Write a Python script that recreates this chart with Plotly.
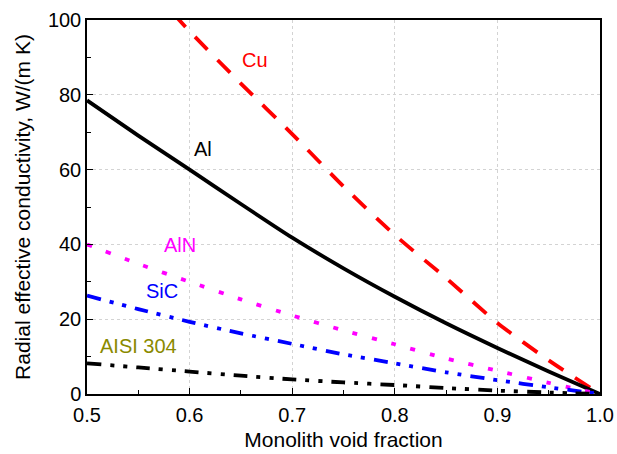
import plotly.graph_objects as go

void_fraction = [0.5, 0.55, 0.6, 0.65, 0.7, 0.75, 0.8, 0.85, 0.9, 0.95, 1.0]
cu = [127, 112, 97, 83, 69.5, 55.5, 42.5, 31, 19, 9, 0]
al = [78.5, 69.1, 60, 50.8, 41.8, 33.6, 26, 18.9, 12.3, 6, 0]
aln = [40, 34.8, 30, 25.3, 21, 17, 13.3, 9.5, 6.2, 3.0, 0]
sic = [26.3, 22.7, 19.3, 16.2, 13.4, 10.6, 8.2, 5.8, 3.7, 1.8, 0]
aisi = [8.2, 7.1, 6.0, 4.9, 3.9, 3.1, 2.4, 1.6, 0.9, 0.4, 0]

series = [
    ("Cu", cu, "#ff0000", "18px,14px"),
    ("Al", al, "#000000", "solid"),
    ("AlN", aln, "#ff00ff", "5px,15px"),
    ("SiC", sic, "#0000ff", "14px,9px,4px,9px,4px,9px"),
    ("AISI 304", aisi, "#000000", "14px,9px,4px,9px,4px,9px"),
]

labels = ["Cu", "Al", "AlN", "SiC", "AISI 304"]
label_x = [0.6637, 0.6131, 0.5906, 0.5731, 0.5502]
label_y = [89.2, 65.6, 39.8, 27.5, 12.8]
label_colors = ["#ff0000", "#000000", "#ff00ff", "#0000ff", "#8a8a00"]

FONT = "Liberation Sans, Arial"

fig = go.Figure()
for name, vals, color, dash in series:
    fig.add_trace(go.Scatter(x=void_fraction, y=vals, mode="lines", name=name,
                             line=dict(color=color, width=3.8, dash=dash, shape="spline", smoothing=0.6),
                             showlegend=False))

for t, x, y, c in zip(labels, label_x, label_y, label_colors):
    fig.add_annotation(x=x, y=y, text=t, showarrow=False,
                       font=dict(size=20, color=c, family=FONT))

axis_common = dict(
    showline=True, linecolor="black", linewidth=1.5, mirror=True,
    ticks="inside", ticklen=6, tickwidth=1, tickcolor="black",
    showgrid=True, gridcolor="#d3d3d3", griddash="dot", gridwidth=1,
    zeroline=False, automargin=False,
    tickfont=dict(size=20, color="black", family=FONT),
)

fig.update_xaxes(range=[0.5, 1.0], tickvals=[0.5, 0.6, 0.7, 0.8, 0.9, 1.0],
                 ticktext=["0.5", "0.6", "0.7", "0.8", "0.9", "1.0"],
                 ticklabelstandoff=2,
                 minor=dict(tickvals=[0.55, 0.65, 0.75, 0.85, 0.95], ticks="inside",
                            ticklen=4, tickcolor="black", showgrid=False),
                 title=dict(text="Monolith void fraction", standoff=8,
                            font=dict(size=21, color="black", family=FONT)),
                 **axis_common)
fig.update_yaxes(range=[0, 100], tickvals=[0, 20, 40, 60, 80, 100],
                 minor=dict(tickvals=[10, 30, 50, 70, 90], ticks="inside",
                            ticklen=4, tickcolor="black", showgrid=False),
                 title=dict(text="Radial effective conductivity, W/(m K)", standoff=12,
                            font=dict(size=21, color="black", family=FONT)),
                 **axis_common)

fig.update_layout(width=617, height=454, plot_bgcolor="white", paper_bgcolor="white",
                  margin=dict(l=87, r=17, t=20, b=60))

fig.write_html("out.html", config={"displayModeBar": False},
               post_script="document.body.style.margin='0';")
